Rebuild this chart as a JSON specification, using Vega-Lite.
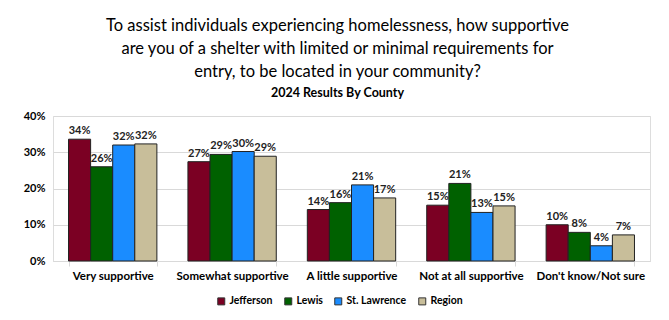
{
  "$schema": "https://vega.github.io/schema/vega-lite/v6.json",
  "width": 597,
  "height": 145,
  "autosize": {"type": "none"},
  "padding": {"left": 53, "top": 116, "right": 19, "bottom": 59},
  "background": "white",
  "title": {
    "text": ["To assist individuals experiencing homelessness, how supportive", "are you of a shelter with limited or minimal requirements for", "entry, to be located in your community?"],
    "subtitle": "2024 Results By County",
    "font": "Lato",
    "fontSize": 16.5,
    "fontWeight": "normal",
    "color": "#000000",
    "lineHeight": 23,
    "subtitleFont": "Lato",
    "subtitleFontSize": 12.5,
    "subtitleFontWeight": "bold",
    "subtitleColor": "#000000",
    "subtitlePadding": 6,
    "anchor": "middle",
    "dx": -14,
    "offset": 11
  },
  "data": {
    "values": [
      {"response": "Very supportive", "county": "Jefferson", "pct": 0.336},
      {"response": "Very supportive", "county": "Lewis", "pct": 0.26},
      {"response": "Very supportive", "county": "St. Lawrence", "pct": 0.32},
      {"response": "Very supportive", "county": "Region", "pct": 0.323},
      {"response": "Somewhat supportive", "county": "Jefferson", "pct": 0.274},
      {"response": "Somewhat supportive", "county": "Lewis", "pct": 0.294},
      {"response": "Somewhat supportive", "county": "St. Lawrence", "pct": 0.302},
      {"response": "Somewhat supportive", "county": "Region", "pct": 0.289},
      {"response": "A little supportive", "county": "Jefferson", "pct": 0.142},
      {"response": "A little supportive", "county": "Lewis", "pct": 0.161},
      {"response": "A little supportive", "county": "St. Lawrence", "pct": 0.21},
      {"response": "A little supportive", "county": "Region", "pct": 0.174},
      {"response": "Not at all supportive", "county": "Jefferson", "pct": 0.154},
      {"response": "Not at all supportive", "county": "Lewis", "pct": 0.214},
      {"response": "Not at all supportive", "county": "St. Lawrence", "pct": 0.134},
      {"response": "Not at all supportive", "county": "Region", "pct": 0.152},
      {"response": "Don't know/Not sure", "county": "Jefferson", "pct": 0.1},
      {"response": "Don't know/Not sure", "county": "Lewis", "pct": 0.079},
      {"response": "Don't know/Not sure", "county": "St. Lawrence", "pct": 0.042},
      {"response": "Don't know/Not sure", "county": "Region", "pct": 0.072}
    ]
  },
  "encoding": {
    "x": {
      "field": "response",
      "type": "nominal",
      "sort": ["Very supportive", "Somewhat supportive", "A little supportive", "Not at all supportive", "Don't know/Not sure"],
      "scale": {"paddingInner": 0.26, "paddingOuter": 0.13},
      "axis": {
        "title": null,
        "labelAngle": 0,
        "labelFont": "Lato",
        "labelFontSize": 11.5,
        "labelFontWeight": "bold",
        "labelColor": "#000000",
        "labelPadding": 4,
        "domainColor": "#d9d9d9",
        "tickColor": "#d9d9d9",
        "tickBand": "extent",
        "tickSize": 5
      }
    },
    "xOffset": {
      "field": "county",
      "type": "nominal",
      "sort": ["Jefferson", "Lewis", "St. Lawrence", "Region"],
      "scale": {"paddingInner": 0, "paddingOuter": 0}
    },
    "y": {
      "field": "pct",
      "type": "quantitative",
      "scale": {"domain": [0, 0.4]},
      "axis": {
        "title": null,
        "format": ".0%",
        "values": [0, 0.1, 0.2, 0.3, 0.4],
        "domain": false,
        "ticks": false,
        "labelFont": "Lato",
        "labelFontSize": 11,
        "labelFontWeight": "bold",
        "labelColor": "#000000",
        "labelPadding": 8,
        "gridColor": "#d9d9d9",
        "gridWidth": 1
      }
    }
  },
  "layer": [
    {
      "mark": {"type": "bar", "stroke": "#222222", "strokeWidth": 1},
      "encoding": {
        "color": {
          "field": "county",
          "type": "nominal",
          "scale": {
            "domain": ["Jefferson", "Lewis", "St. Lawrence", "Region"],
            "range": ["#7b0023", "#006100", "#1a8cff", "#c8be9a"]
          },
          "legend": {
            "title": null,
            "orient": "none",
            "direction": "horizontal",
            "legendX": 163,
            "legendY": 180,
            "symbolType": "square",
            "symbolSize": 49,
            "symbolStrokeColor": "#333333",
            "symbolStrokeWidth": 1,
            "labelFont": "Lato",
            "labelFontSize": 10.5,
            "labelFontWeight": "bold",
            "labelColor": "#000000",
            "labelOffset": 3,
            "columnPadding": 9
          }
        }
      }
    },
    {
      "mark": {"type": "text", "dy": -8, "font": "Lato", "fontSize": 11, "fontWeight": "bold", "color": "#222222"},
      "encoding": {
        "text": {"field": "pct", "type": "quantitative", "format": ".0%"}
      }
    }
  ]
}
